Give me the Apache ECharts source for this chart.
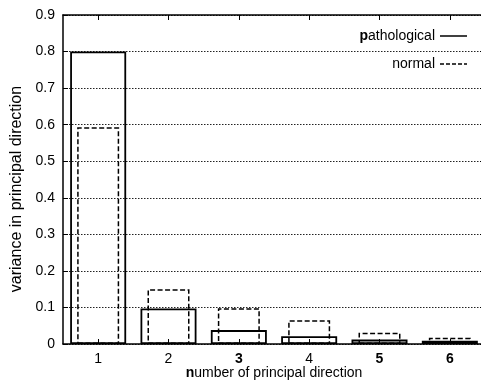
<!DOCTYPE html>
<html>
<head>
<meta charset="utf-8">
<script src="https://cdn.jsdelivr.net/npm/echarts@6/dist/echarts.min.js"></script>
<style>
html, body { margin: 0; padding: 0; background: #fff; }
#chart { width: 481px; height: 383px; }
</style>
</head>
<body>
<div id="chart"></div>
<script>
// 数据
var categories = ['1', '2', '3', '4', '5', '6'];
var boldLabels = ['3', '5', '6'];
var pathological = [0.800, 0.097, 0.038, 0.021, 0.012, 0.009];
var normal = [0.593, 0.150, 0.098, 0.065, 0.031, 0.017];
var yTicks = [0, 0.1, 0.2, 0.3, 0.4, 0.5, 0.6, 0.7, 0.8, 0.9];

var font = 'Liberation Sans, Arial, sans-serif';
var rich = {
    b: { fontWeight: 'bold', fontSize: 14, fontFamily: font, color: '#000' }
};

// 图例图标：实线和虚线
var solidIcon = 'path://M0,0H27V1.5H0Z';
var dashIcon = 'path://M0,0H4V1.5H0Z M6,0H10V1.5H6Z M12,0H16V1.5H12Z M18,0H22V1.5H18Z M24,0H27V1.5H24Z';

var myChart = echarts.init(document.getElementById('chart'));

function xAxisOpt(pos, showLabel) {
    return {
        type: 'category',
        position: pos,
        data: categories,
        boundaryGap: true,
        axisLine: { show: true, onZero: false, lineStyle: { color: '#000', width: 1.5 } },
        axisTick: { show: true, inside: true, alignWithLabel: true, length: 5, lineStyle: { color: '#000' } },
        axisLabel: {
            show: showLabel,
            margin: 8,
            fontSize: 14,
            fontFamily: font,
            color: '#000',
            formatter: function (v) {
                return boldLabels.indexOf(v) >= 0 ? '{b|' + v + '}' : v;
            },
            rich: rich
        },
        splitLine: { show: false }
    };
}

function yAxisOpt(pos, showLabel) {
    return {
        type: 'value',
        position: pos,
        min: yTicks[0],
        max: yTicks[yTicks.length - 1],
        interval: 0.1,
        axisLine: { show: true, onZero: false, lineStyle: { color: '#000', width: 1.5 } },
        axisTick: { show: true, inside: true, length: 5, lineStyle: { color: '#000' } },
        axisLabel: {
            show: showLabel,
            margin: 8,
            fontSize: 14,
            fontFamily: font,
            color: '#000',
            formatter: function (v) { return String(Math.round(v * 10) / 10); }
        },
        splitLine: showLabel ? {
            show: true,
            lineStyle: { color: '#222', type: [1.5, 1.5], width: 1 }
        } : { show: false }
    };
}

var bottomX = xAxisOpt('bottom', true);
bottomX.name = '{b|n}umber of principal direction';
bottomX.nameLocation = 'middle';
bottomX.nameGap = 22;
bottomX.nameMoveOverlap = false;
bottomX.nameTextStyle = { fontSize: 14, fontFamily: font, color: '#000', rich: rich };

var leftY = yAxisOpt('left', true);
leftY.name = 'variance in principal direction';
leftY.nameLocation = 'middle';
leftY.nameGap = 38;
leftY.nameMoveOverlap = false;
leftY.nameTextStyle = { fontSize: 16, fontFamily: font, color: '#000', padding: [0, 19, 0, 0] };

var option = {
    backgroundColor: '#fff',
    animation: false,
    grid: {
        left: 63,
        top: 15,
        width: 422,
        height: 329,
        containLabel: false,
        outerBoundsMode: 'none'
    },
    legend: [{
        orient: 'vertical',
        right: 9,
        top: 24,
        align: 'right',
        itemWidth: 27,
        itemHeight: 1.5,
        data: [{ name: 'pathological', icon: solidIcon }],
        itemStyle: { color: '#000', borderWidth: 0 },
        textStyle: { fontSize: 14, fontFamily: font, color: '#000', rich: rich },
        formatter: function () { return '{b|p}athological'; }
    }, {
        orient: 'vertical',
        right: 9,
        top: 52,
        align: 'right',
        itemWidth: 27,
        itemHeight: 1.5,
        data: [{ name: 'normal', icon: dashIcon }],
        itemStyle: { color: '#000', borderWidth: 0 },
        textStyle: { fontSize: 14, fontFamily: font, color: '#000' }
    }],
    xAxis: [bottomX, xAxisOpt('top', false)],
    yAxis: [leftY, yAxisOpt('right', false)],
    series: [{
        name: 'normal',
        type: 'bar',
        xAxisIndex: 1,
        yAxisIndex: 0,
        barWidth: 42,
        itemStyle: {
            color: 'rgba(0,0,0,0)',
            borderColor: '#000',
            borderWidth: 1.5,
            borderType: [5, 2.5]
        },
        data: normal
    }, {
        name: 'pathological',
        type: 'bar',
        xAxisIndex: 0,
        yAxisIndex: 0,
        barWidth: 56,
        itemStyle: {
            color: 'rgba(0,0,0,0)',
            borderColor: '#000',
            borderWidth: 1.8
        },
        data: pathological
    }]
};

myChart.setOption(option);
</script>
</body>
</html>
